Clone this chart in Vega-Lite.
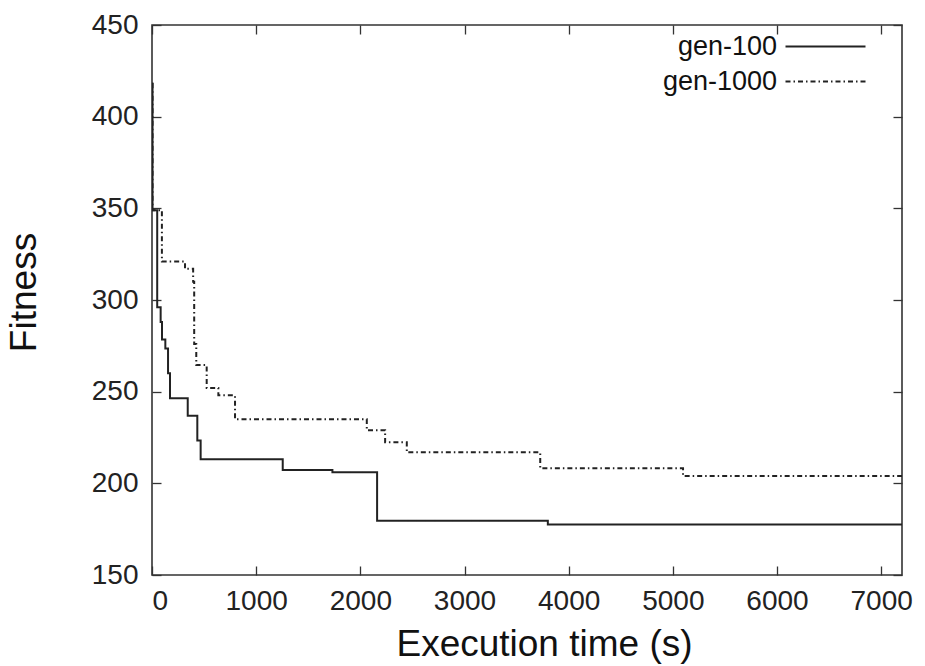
{
  "$schema": "https://vega.github.io/schema/vega-lite/v6.json",
  "width": 750,
  "height": 550,
  "autosize": "none",
  "padding": {"left": 152, "top": 25, "right": 23, "bottom": 91},
  "background": "white",
  "config": {
    "view": {"stroke": "#333", "strokeWidth": 1.6},
    "font": "Liberation Sans",
    "axis": {
      "domain": false,
      "grid": false,
      "tickColor": "#333",
      "tickSize": -9,
      "tickWidth": 1.3,
      "labelFont": "Liberation Sans",
      "labelFontSize": 28,
      "labelColor": "#222",
      "titleFont": "Liberation Sans",
      "titleFontSize": 37,
      "titleFontWeight": "normal",
      "titleColor": "#111"
    }
  },
  "datasets": {
    "fit": [
      {"t": 0, "fitness": 418, "run": "gen-100"},
      {"t": 5, "fitness": 349, "run": "gen-100"},
      {"t": 50, "fitness": 296, "run": "gen-100"},
      {"t": 83, "fitness": 288, "run": "gen-100"},
      {"t": 96, "fitness": 278.5, "run": "gen-100"},
      {"t": 128, "fitness": 273.6, "run": "gen-100"},
      {"t": 154, "fitness": 260, "run": "gen-100"},
      {"t": 173, "fitness": 246.4, "run": "gen-100"},
      {"t": 343, "fitness": 236.9, "run": "gen-100"},
      {"t": 435, "fitness": 223.3, "run": "gen-100"},
      {"t": 467, "fitness": 213.1, "run": "gen-100"},
      {"t": 1255, "fitness": 207.3, "run": "gen-100"},
      {"t": 1732, "fitness": 206, "run": "gen-100"},
      {"t": 2161, "fitness": 179.6, "run": "gen-100"},
      {"t": 3800, "fitness": 177.6, "run": "gen-100"},
      {"t": 7200, "fitness": 177.6, "run": "gen-100"},
      {"t": 0, "fitness": 418, "run": "gen-1000"},
      {"t": 5, "fitness": 349, "run": "gen-1000"},
      {"t": 95, "fitness": 321, "run": "gen-1000"},
      {"t": 317, "fitness": 317, "run": "gen-1000"},
      {"t": 395, "fitness": 310, "run": "gen-1000"},
      {"t": 405, "fitness": 276, "run": "gen-1000"},
      {"t": 425, "fitness": 264.5, "run": "gen-1000"},
      {"t": 525, "fitness": 252, "run": "gen-1000"},
      {"t": 637, "fitness": 248, "run": "gen-1000"},
      {"t": 797, "fitness": 235, "run": "gen-1000"},
      {"t": 2062, "fitness": 229, "run": "gen-1000"},
      {"t": 2238, "fitness": 222.4, "run": "gen-1000"},
      {"t": 2446, "fitness": 216.9, "run": "gen-1000"},
      {"t": 3727, "fitness": 208.2, "run": "gen-1000"},
      {"t": 5098, "fitness": 204, "run": "gen-1000"},
      {"t": 7200, "fitness": 204, "run": "gen-1000"}
    ]
  },
  "data": {"name": "fit"},
  "layer": [
    {
      "mark": {"type": "line", "interpolate": "step-after", "strokeWidth": 2, "color": "#222", "clip": true},
      "encoding": {
        "x": {
          "field": "t", "type": "quantitative",
          "scale": {"domain": [0, 7200], "nice": false, "zero": false},
          "axis": {"values": [0, 1000, 2000, 3000, 4000, 5000, 6000, 7000], "format": "d", "title": "Execution time (s)", "labelPadding": 21, "labelDx": 7, "titleX": 392, "titleY": 80, "titleBaseline": "alphabetic", "titleAnchor": "middle", "titleAlign": "center"}
        },
        "y": {
          "field": "fitness", "type": "quantitative",
          "scale": {"domain": [150, 450], "nice": false, "zero": false},
          "axis": {"values": [150, 200, 250, 300, 350, 400, 450], "format": "d", "title": "Fitness", "labelPadding": 23, "titleX": -117, "titleY": 267, "titleBaseline": "alphabetic", "titleAlign": "center", "titleAngle": -90}
        },
        "strokeDash": {
          "field": "run", "type": "nominal",
          "scale": {"domain": ["gen-100", "gen-1000"], "range": [[1, 0], [5, 3, 1.5, 3]]},
          "legend": {
            "title": null,
            "orient": "none",
            "legendX": 660,
            "legendY": 8,
            "symbolType": "M-4,0H4",
            "symbolSize": 400,
            "symbolStrokeWidth": 1.8,
            "symbolStrokeColor": "#222",
            "symbolFillColor": "transparent",
            "labelFont": "Liberation Sans",
            "labelFontSize": 27,
            "labelColor": "#111",
            "labelAlign": "right",
            "labelOffset": -62,
            "rowPadding": 7,
            "labelLimit": 300
          }
        }
      }
    },
    {
      "mark": {"type": "line", "opacity": 0},
      "encoding": {
        "x": {
          "field": "t", "type": "quantitative",
          "scale": {"domain": [0, 7200], "nice": false, "zero": false},
          "axis": {"orient": "top", "values": [0, 1000, 2000, 3000, 4000, 5000, 6000, 7000], "labels": false, "title": null}
        },
        "y": {
          "field": "fitness", "type": "quantitative",
          "scale": {"domain": [150, 450], "nice": false, "zero": false},
          "axis": {"orient": "right", "values": [150, 200, 250, 300, 350, 400, 450], "labels": false, "title": null}
        },
        "detail": {"field": "run"}
      }
    }
  ],
  "resolve": {"axis": {"x": "independent", "y": "independent"}}
}
